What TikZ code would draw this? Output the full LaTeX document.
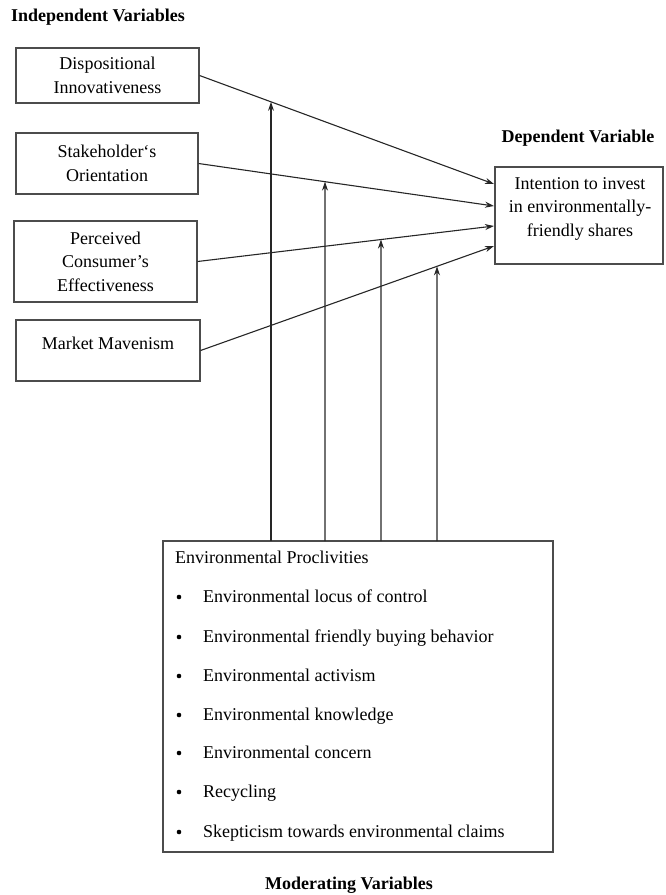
\documentclass[tikz,border=0pt]{standalone}
\usepackage{fontspec}
\setmainfont{Liberation Serif}
\usetikzlibrary{arrows.meta}
\begin{document}
\begin{tikzpicture}[x=1pt,y=-1pt,
  box/.style={draw=black!70, line width=1.1pt, rectangle, inner sep=0pt, align=center, font=\fontsize{18}{23.5}\selectfont},
  txt/.style={inner sep=0pt, align=center, font=\fontsize{18}{23.5}\selectfont},
  head/.style={inner sep=0pt, font=\fontsize{18}{22}\selectfont\bfseries},
  conn/.style={draw=black!85, line width=1.1pt, -{Stealth[length=9pt,width=6pt]}},
  litem/.style={inner sep=0pt, anchor=base west, font=\fontsize{18}{22}\selectfont}]
\useasboundingbox (0,0) rectangle (665,895);

% headings
\node[head] (hind) at (98,17) {Independent Variables};
\node[head] (hdep) at (578,138) {Dependent Variable};
\node[head] (hmod) at (349,885) {Moderating Variables};

% independent boxes
\node[box, minimum width=183pt, minimum height=55pt] (d1) at (107.5,75.5) {Dispositional\\Innovativeness};
\node[box, minimum width=182pt, minimum height=61pt] (d2) at (107,163.5) {Stakeholder`s\\Orientation};
\node[box, minimum width=183pt, minimum height=81pt] (d3) at (105.5,261.5) {Perceived\\Consumer's\\Effectiveness};
\node[box, minimum width=184pt, minimum height=61pt] (d4) at (108,350.5) {};
\node[txt] (d4t) at (108,343) {Market Mavenism};

% dependent box
\node[box, minimum width=168pt, minimum height=97pt] (dep) at (579,215.5) {};
\node[txt] (dept) at (580,208.5) {Intention to invest\\in environmentally-\\friendly shares};

% moderating box
\node[draw=black!70, line width=1.1pt, rectangle, minimum width=390pt, minimum height=311pt, inner sep=0pt] (mod) at (358,696.5) {};
\node[litem] (m0) at (175,563.5) {Environmental Proclivities};
\foreach \y/\t [count=\i] in {597/Environmental locus of control,
  637/Environmental friendly buying behavior,
  676/Environmental activism,
  715/Environmental knowledge,
  753/Environmental concern,
  792/Recycling,
  832/Skepticism towards environmental claims}{
  \fill (179,\y) circle (2.3pt);
  \node[litem] (li\i) at (203,\y+5.5) {\t};
}

% arrow end points on dependent box
\coordinate (e1) at (494,184);
\coordinate (e2) at (494,206);
\coordinate (e3) at (494,226);
\coordinate (e4) at (494,246);
\draw[conn] (d1.east) -- (e1);
\draw[conn] (d2.east) -- (e2);
\draw[conn] (d3.east) -- (e3);
\draw[conn] (d4.east) -- (e4);

% moderating arrows
\foreach \x/\k in {271/1,325/2,381/3,437/4}{
  \coordinate (mb\k) at (\x,541);
  \coordinate (mt\k) at (\x,0);
}
\draw[conn] (mb1) -- (intersection of mb1--mt1 and d1.east--e1);
\draw[conn] (mb2) -- (intersection of mb2--mt2 and d2.east--e2);
\draw[conn] (mb3) -- (intersection of mb3--mt3 and d3.east--e3);
\draw[conn] (mb4) -- (intersection of mb4--mt4 and d4.east--e4);
\end{tikzpicture}
\end{document}
